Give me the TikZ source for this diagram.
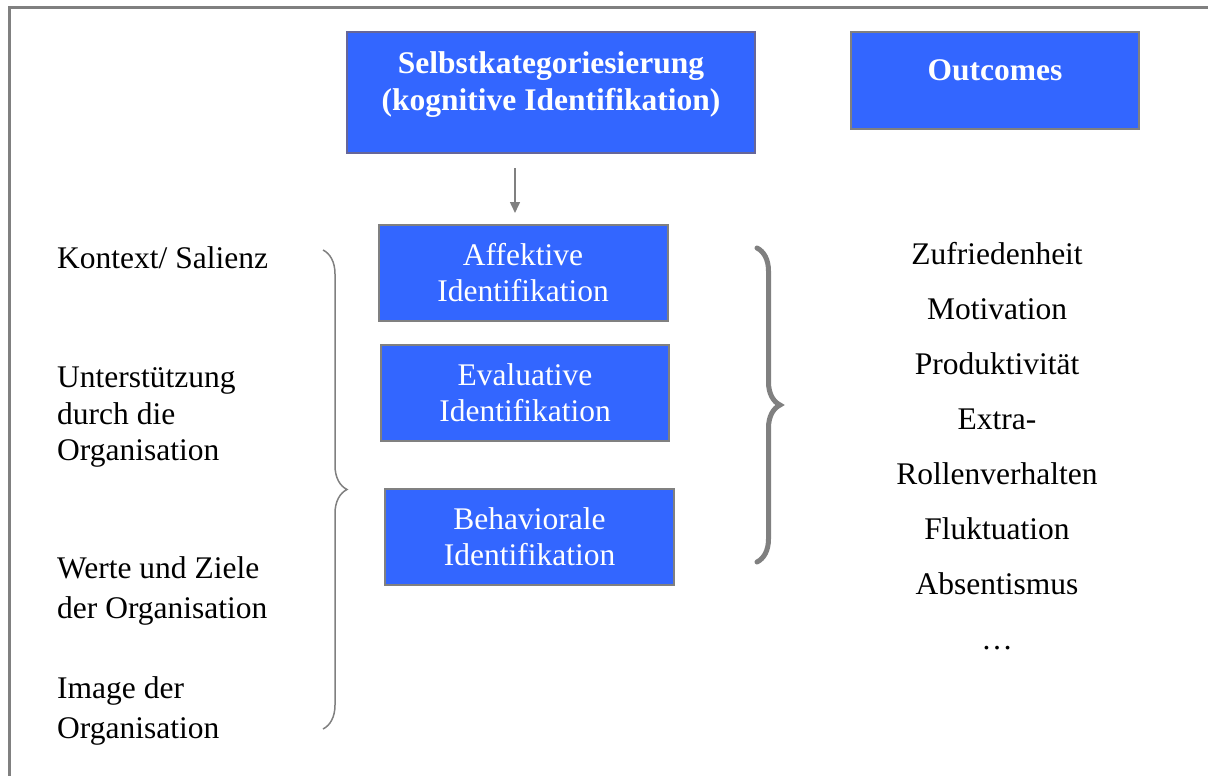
\documentclass[tikz,border=0pt]{standalone}
\usepackage{fontspec}
\setmainfont{Liberation Serif}
\usetikzlibrary{arrows.meta, decorations.pathreplacing}
\definecolor{boxblue}{RGB}{51,102,255}
\definecolor{rimgray}{RGB}{128,128,128}
\definecolor{rimblue}{RGB}{102,102,153}

\begin{document}
\begin{tikzpicture}[x=1pt, y=-1pt, >={Triangle[length=11pt, width=10pt]},
    font=\fontsize{31.5}{36}\selectfont,
    idbox/.style={rectangle, draw=rimgray, line width=2pt, fill=boxblue, text=white, inner sep=0pt, minimum width=289pt, minimum height=96pt, align=center},
    headbox/.style={idbox, font=\fontsize{31.5}{37}\selectfont\bfseries},
    sidetext/.style={anchor=north west, inner sep=0pt, align=left, font=\fontsize{31.5}{40}\selectfont},
    outtext/.style={anchor=base, inner sep=0pt},
    flow/.style={->, draw=rimgray, line width=1.5pt},
    curly/.style={draw=rimgray, decorate, decoration={brace, amplitude=#1}}]
  \useasboundingbox (0,0) rectangle (1208,776);
  % frame
  \draw[rimgray, line width=3pt] (9.5,776) -- (9.5,7.5) -- (1208,7.5);

  % headers
  \node[headbox, draw=rimblue, minimum width=408pt, minimum height=121pt] (selbst) at (551,92.5)
    {\raisebox{8pt}[\height][\depth]{\begin{tabular}{@{}c@{}}Selbstkategoriesierung\\(kognitive Identifikation)\end{tabular}}};
  \node[headbox, minimum width=288pt, minimum height=97pt] (outcomes) at (995,80.5)
    {\raisebox{10.5pt}[\height][\depth]{Outcomes}};

  % identification boxes
  \node[idbox] (affekt) at (523,273) {Affektive\\Identifikation};
  \node[idbox, minimum width=288pt] (eval) at (525,393) {Evaluative\\Identifikation};
  \node[idbox] (behav) at (529.5,537) {Behaviorale\\Identifikation};

  \path (affekt.north) ++(-8,0) coordinate (arrx);
  \draw[flow, shorten <=14pt, shorten >=11pt] (arrx |- selbst.south) -- (arrx);

  % antecedents
  \node[sidetext] (kontext) at (57,246) {Kontext/ Salienz};
  \node[sidetext, font=\fontsize{31.5}{36.5}\selectfont] (support) at (57,367) {Unterstützung\\durch die\\Organisation};
  \node[sidetext] (werte) at (57,556) {Werte und Ziele\\der Organisation};
  \node[sidetext] (image) at (57,676) {Image der\\Organisation};

  % braces
  \draw[curly=24pt, line width=1.5pt] (323,250) -- (323,729);
  \draw[curly=23pt, line width=5pt, line cap=round] (757,248) -- (757,562);

  % outcomes
  \foreach \outc [count=\i] in {Zufriedenheit, Motivation, Produktivität, Extra-, Rollenverhalten, Fluktuation, Absentismus, \dots}
    \node[outtext] (out\i) at (997, 264+55*\i-55) {\outc};
\end{tikzpicture}
\end{document}
